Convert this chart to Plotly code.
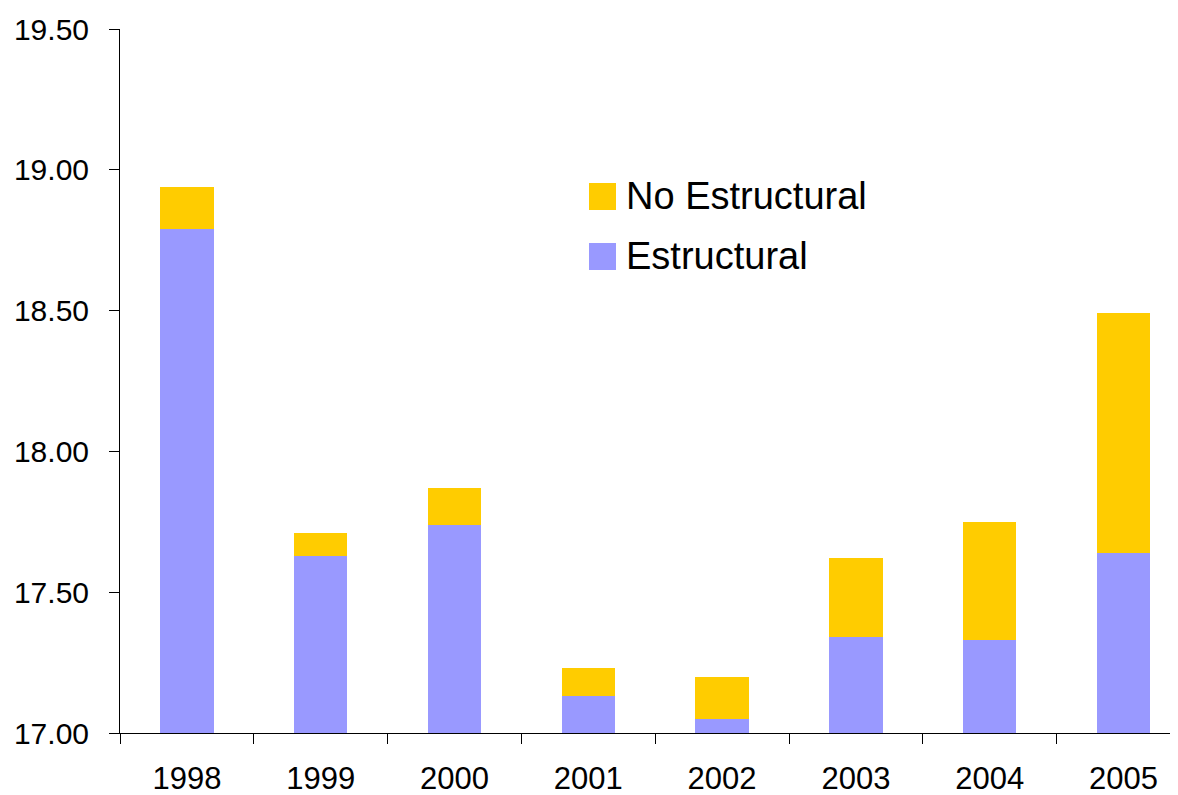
import plotly.graph_objects as go

# Values
years = ["1998", "1999", "2000", "2001", "2002", "2003", "2004", "2005"]
estructural = [18.79, 17.63, 17.74, 17.13, 17.05, 17.34, 17.33, 17.64]
no_estructural = [0.15, 0.08, 0.13, 0.10, 0.15, 0.28, 0.42, 0.85]
y_ticks = [17.0, 17.5, 18.0, 18.5, 19.0, 19.5]

YELLOW = "#FFCC00"
PURPLE = "#9999FF"
FONT = "Liberation Sans, Arial, sans-serif"

# the page puts the figure 8px in from the top-left corner
OFF = 8
W, H = 1178, 795
ML, MT, MB, MR = 120 - OFF, 29 - OFF, H - (733 - OFF), 0
plot_w = W - ML - MR
plot_h = H - MT - MB

fig = go.Figure()
fig.add_trace(go.Bar(x=years, y=estructural, name="Estructural",
                     marker=dict(color=PURPLE, line=dict(width=0)), width=0.4))
fig.add_trace(go.Bar(x=years, y=no_estructural, name="No Estructural",
                     marker=dict(color=YELLOW, line=dict(width=0)), width=0.4))

# legend drawn by hand so the swatches can be large (positions in page pixels)
def px_x(px):
    return (px - OFF - ML) / plot_w

def px_y(py):
    return 1 - (py - OFF - MT) / plot_h

shapes = []
annotations = []
for row, (label, color) in enumerate([("No Estructural", YELLOW), ("Estructural", PURPLE)]):
    top = 183 + row * 60
    shapes.append(dict(type="rect", xref="paper", yref="paper",
                       x0=px_x(589), x1=px_x(616), y0=px_y(top), y1=px_y(top + 27),
                       fillcolor=color, line=dict(width=0)))
    annotations.append(dict(text=label, xref="paper", yref="paper",
                            x=px_x(624), y=px_y(top + 12.5), xanchor="left", yanchor="middle",
                            showarrow=False, font=dict(size=38, color="black", family=FONT)))

fig.update_layout(
    width=W, height=H,
    barmode="stack",
    showlegend=False,
    plot_bgcolor="white",
    paper_bgcolor="white",
    margin=dict(l=ML, r=MR, t=MT, b=MB),
    font=dict(family=FONT, size=30, color="black"),
    shapes=shapes,
    annotations=annotations,
    xaxis=dict(
        range=[-0.5, -0.5 + plot_w / 133.8],
        tickson="boundaries",
        ticks="outside", ticklen=10, tickcolor="black", tickwidth=1,
        showline=True, linecolor="black", linewidth=1,
        showgrid=False, zeroline=False,
        ticklabelstandoff=18,
        tickfont=dict(size=31),
    ),
    yaxis=dict(
        range=[17, 19.5],
        tickvals=y_ticks,
        tickformat=".2f",
        ticks="outside", ticklen=10, tickcolor="black", tickwidth=1,
        showline=True, linecolor="black", linewidth=1,
        showgrid=False, zeroline=False,
        ticklabelstandoff=14,
    ),
)

fig.write_html("out.html")
